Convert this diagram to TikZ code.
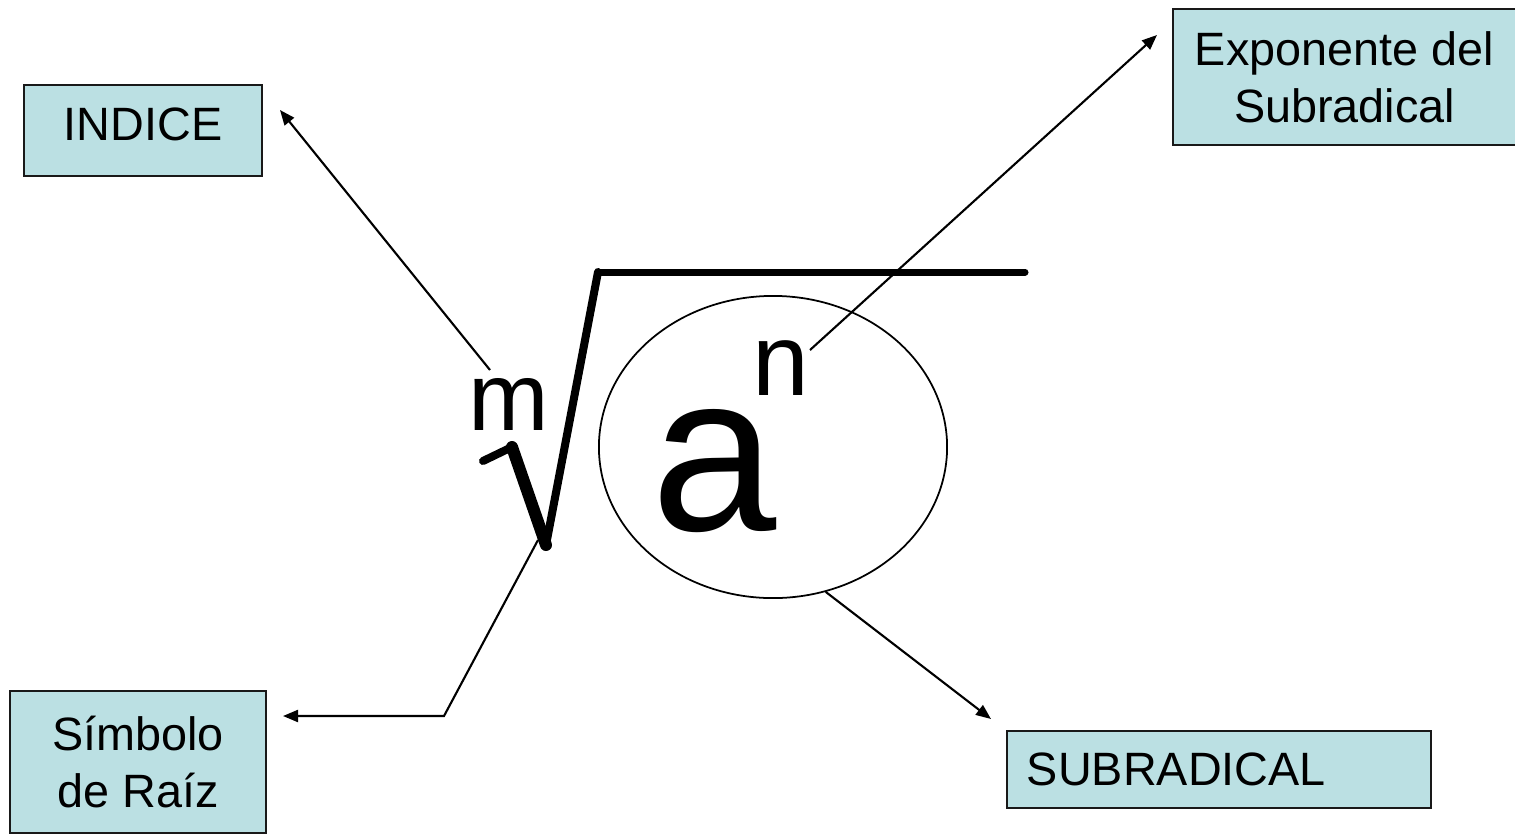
\documentclass[tikz,border=0pt]{standalone}
\usepackage{fontspec}
\setmainfont{Liberation Sans}
\usepackage{tikz}
\usetikzlibrary{shapes.geometric, arrows.meta, positioning, calc}
\definecolor{boxteal}{RGB}{187,224,227}
\definecolor{mydark}{RGB}{25,25,25}
\tikzset{
  labelbox/.style={rectangle, draw=mydark, fill=boxteal, align=center,
    inner sep=0pt, font=\fontsize{13.3}{16.2}\selectfont, line width=0.6pt},
  letter/.style={inner sep=0pt, color=black},
  arrow/.style={-{Triangle[length=0.15cm,width=0.12cm]}, line width=0.6pt, color=black},
  radical/.style={line cap=round, line join=round, color=black}
}

\begin{document}
\begin{tikzpicture}[x=0.01cm, y=-0.01cm]
  \useasboundingbox (0,0) rectangle (1515,833);

  % Label boxes
  \node[labelbox, minimum width=2.38cm, minimum height=0.91cm, text depth=0.12cm] (indice) at (143,130.5) {INDICE};
  \node[labelbox, minimum width=3.43cm, minimum height=1.36cm] (expo) at (1344.5,77) {Exponente del\\Subradical};
  \node[labelbox, minimum width=2.56cm, minimum height=1.42cm] (simbolo) at (138,762) {Símbolo\\de Raíz};
  \node[labelbox, minimum width=4.24cm, minimum height=0.77cm, text width=3.84cm, align=left] (subrad) at (1219,769.5) {SUBRADICAL};

  % Radicand
  \node[ellipse, draw, minimum width=3.48cm, minimum height=3.02cm, line width=0.5pt] (sub) at (773,447) {};
  \node[letter, font=\fontsize{64}{64}\selectfont] (a) at (714,471) {a};
  \node[letter, font=\fontsize{29}{29}\selectfont] (n) at (781,368) {n};
  \node[letter, font=\fontsize{27.5}{27.5}\selectfont] (m) at (509,404) {m};

  % Radical sign
  \coordinate (rtick) at (483,461);
  \coordinate (rtop) at (512,447);
  \coordinate (rbot) at (546,545);
  \coordinate (rpeak) at (598,272);
  \coordinate (rend) at (1025,272);
  \draw[radical, line width=0.08cm] (rtick) -- (rtop);
  \draw[radical, line width=0.12cm] (rtop) -- (rbot);
  \draw[radical, line width=0.08cm] (rbot) -- (rpeak);
  \draw[radical, line width=0.07cm] (rpeak) -- (rend);

  % Arrows
  \coordinate (mtip) at (490,370);
  \coordinate (indtip) at (280,110);
  \draw[arrow] (mtip) -- (indtip);

  \coordinate (ntip) at (810,350);
  \coordinate (exptip) at (1157,35);
  \draw[arrow] (ntip) -- (exptip);

  \coordinate (radfoot) at (538,540);
  \coordinate (bend) at (444,716);
  \coordinate (simtip) at (283,716);
  \draw[arrow] (radfoot) -- (bend) -- (simtip);

  \coordinate (subtip) at (991,719);
  \draw[arrow] (sub.-70) -- (subtip);
\end{tikzpicture}
\end{document}
